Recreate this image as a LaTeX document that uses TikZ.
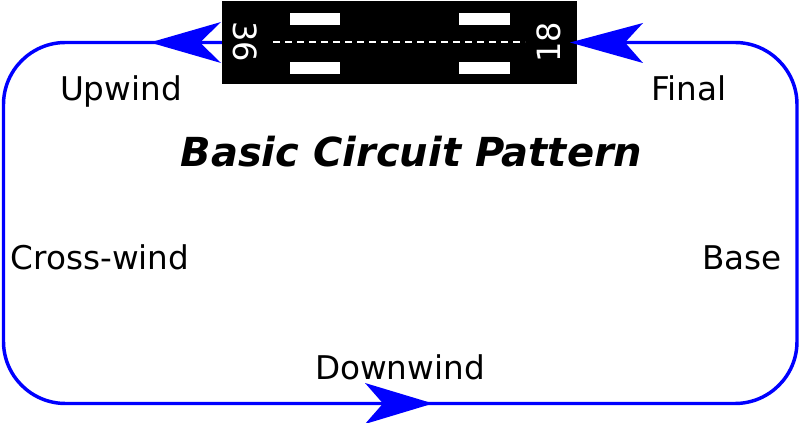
\documentclass[tikz,border=0pt]{standalone}
\usepackage{fontspec}
\setmainfont{DejaVu Sans}
\begin{document}
\begin{tikzpicture}[x=0.75pt,y=-0.75pt,
  circuit/.style={draw=blue,line width=2.6pt,rounded corners=46.5pt},
  arrowhead/.style={fill=blue},
  runway/.style={fill=black},
  bar/.style={fill=white},
  centre/.style={draw=white,line width=1.5pt,dash pattern=on 5.25pt off 3.75pt},
  lbl/.style={inner sep=0pt,anchor=base,font=\fontsize{24.5pt}{28pt}\selectfont},
  title/.style={inner sep=0pt,anchor=base,font=\fontsize{30pt}{36pt}\selectfont\bfseries\itshape},
  rwnum/.style={inner sep=0pt,text=white,font=\fontsize{24pt}{28pt}\selectfont}]
\useasboundingbox (0,0) rectangle (800,423);
% circuit
\draw[circuit] (3.5,42.5) rectangle (797,403.5);
% runway
\fill[runway] (222,1) rectangle (577,84);
\fill[bar] (290,13) rectangle (340,25);
\fill[bar] (459,13) rectangle (510,25);
\fill[bar] (290,62) rectangle (340,74);
\fill[bar] (459,62) rectangle (510,74);
\draw[centre] (273,42) -- (525,42);
\node[rwnum,rotate=-90] (r36) at (245,42) {36};
\node[rwnum,rotate=90] (r18) at (549,42) {18};
% arrowheads
\fill[arrowhead] (150,42.5) -- (221,22) -- (200,42.5) -- (221,63) -- cycle;
\fill[arrowhead] (570,42.5) -- (643,23) -- (625,42.5) -- (643,63) -- cycle;
\fill[arrowhead] (433,403.5) -- (365,383) -- (383,403.5) -- (365,424) -- cycle;
% labels
\node[lbl] (up) at (121,100.5) {Upwind};
\node[lbl] (fin) at (689,100.5) {Final};
\node[title] (ttl) at (411.5,166.7) {Basic Circuit Pattern};
\node[lbl] (cw) at (100,270) {Cross-wind};
\node[lbl] (base) at (742,270) {Base};
\node[lbl] (dw) at (400,380) {Downwind};
\end{tikzpicture}
\end{document}
